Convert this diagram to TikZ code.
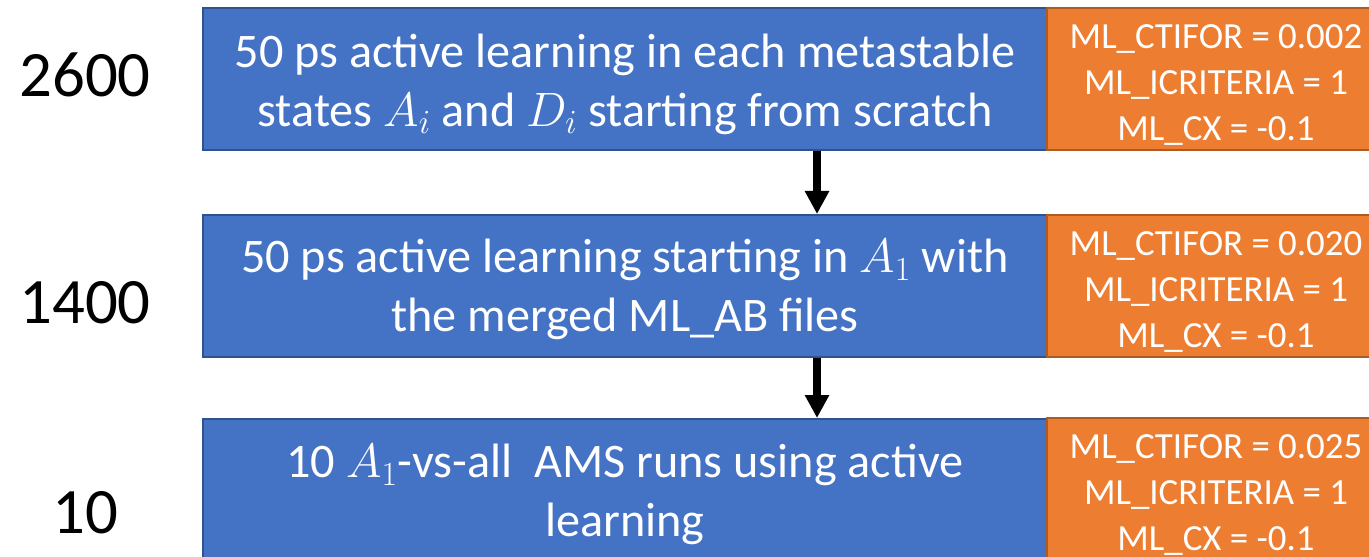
\documentclass[tikz,border=0pt]{standalone}
\usepackage{fix-cm}
\usepackage{fontspec}
\setmainfont{Carlito}
\usetikzlibrary{arrows.meta}
\definecolor{bfill}{HTML}{4472C4}
\definecolor{bdraw}{HTML}{2F528F}
\definecolor{ofill}{HTML}{ED7D31}
\definecolor{odraw}{HTML}{AE5A21}
\begin{document}
\begin{tikzpicture}[x=1bp,y=-1bp,
 bluebox/.style={draw=bdraw, fill=bfill, line width=2bp, minimum width=844bp, minimum height=142bp, inner sep=0pt},
 orangebox/.style={draw=odraw, fill=ofill, line width=2bp, minimum width=338bp, minimum height=142bp, inner sep=0pt},
 maintext/.style={text=white, align=center, font=\fontsize{48.4}{58.5}\selectfont, inner sep=0pt},
 paramtext/.style={text=white, align=center, font=\fontsize{37}{46}\selectfont, inner sep=0pt},
 countlabel/.style={anchor=base, font=\fontsize{65}{78}\selectfont, inner sep=0pt},
 flow/.style={line width=8bp, -{Triangle[width=23bp,length=23bp]}}
]
\useasboundingbox (0,0) rectangle (1369,557);
% boxes
\node[bluebox] (b1) at (625,79) {};
\node[bluebox] (b2) at (625,286) {};
\node[bluebox] (b3) at (625,490) {};
\node[orangebox] (o1) at (1216,79) {};
\node[orangebox] (o2) at (1216,286) {};
\node[orangebox] (o3) at (1216,489) {};
% texts
\node[maintext] (t1) at (625,84.5) {50 ps active learning in each metastable\\states $A_i$ and $D_i$ starting from scratch};
\node[maintext] (t2) at (625,289.5) {50 ps active learning starting in $A_1$ with\\the merged ML\_AB files};
\node[maintext] (t3) at (625,494.5) {10 $A_1$-vs-all~ AMS runs using active\\learning};
\node[paramtext] (p1) at (1216,85) {ML\_CTIFOR = 0.002\\ML\_ICRITERIA = 1\\ML\_CX = -0.1};
\node[paramtext] (p2) at (1216,292) {ML\_CTIFOR = 0.020\\ML\_ICRITERIA = 1\\ML\_CX = -0.1};
\node[paramtext] (p3) at (1216,495) {ML\_CTIFOR = 0.025\\ML\_ICRITERIA = 1\\ML\_CX = -0.1};
% counts
\node[countlabel] (c1) at (85,97) {2600};
\node[countlabel] (c2) at (85,323) {1400};
\node[countlabel] (c3) at (85,533) {10};
% arrows
\draw[flow] ([xshift=192bp]b1.south) -- ([xshift=192bp]b2.north);
\draw[flow] ([xshift=192bp]b2.south) -- ([xshift=192bp]b3.north);
\end{tikzpicture}
\end{document}
